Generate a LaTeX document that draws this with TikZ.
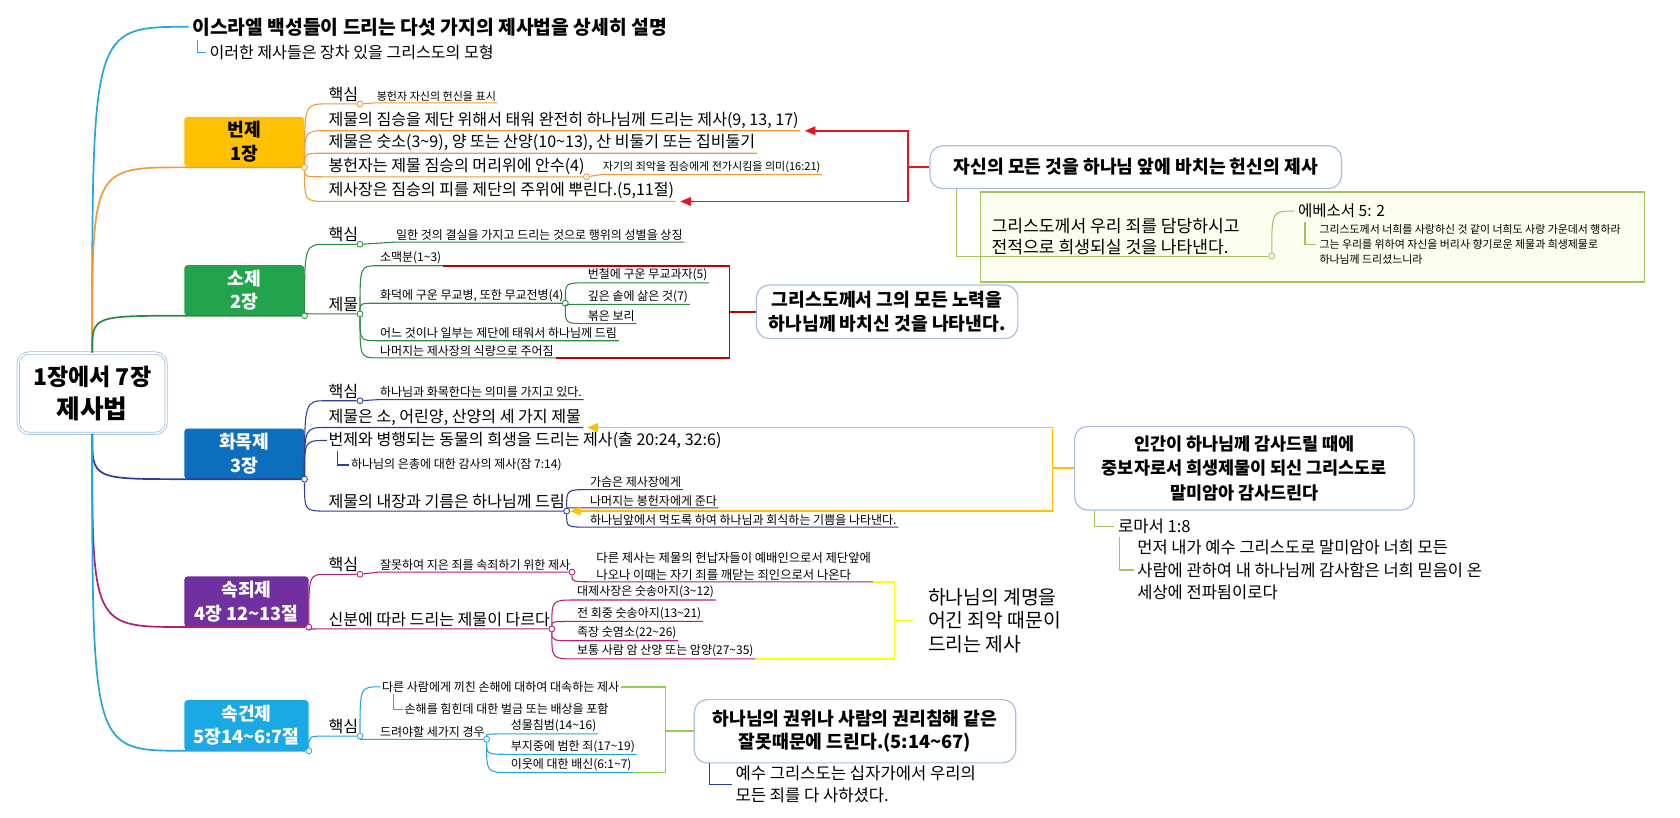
\documentclass[tikz,border=0pt]{standalone}
\usepackage{fontspec}
\setmainfont{Noto Sans CJK KR}
\usetikzlibrary{arrows.meta,positioning}
\newcommand{\tld}{\textasciitilde}

\definecolor{rootline}{HTML}{9DBCE0}
\definecolor{boxline}{HTML}{A9BFDD}
\definecolor{bunjebox}{HTML}{FFC000}
\definecolor{bunjeline}{HTML}{F39A3A}
\definecolor{sojebox}{HTML}{22A34E}
\definecolor{sojeline}{HTML}{2D8A3E}
\definecolor{hwamokbox}{HTML}{0E6EBE}
\definecolor{hwamokline}{HTML}{2C3E9C}
\definecolor{sokjoebox}{HTML}{7030A0}
\definecolor{sokjoeline}{HTML}{B11F7C}
\definecolor{sokgeonbox}{HTML}{1BA9E6}
\definecolor{sokgeonline}{HTML}{27A6DC}
\definecolor{arrowred}{HTML}{E8141B}
\definecolor{darkred}{HTML}{C00000}
\definecolor{amber}{HTML}{FFC000}
\definecolor{brightyellow}{HTML}{FFFF00}
\definecolor{leafgreen}{HTML}{92D050}
\definecolor{notegreen}{HTML}{A5C261}
\definecolor{notefill}{HTML}{FBFDEE}

\tikzset
{
    rootnode/.style = {rectangle, rounded corners=10pt, draw=rootline, double=white,
                       double distance=1.5pt, line width=0.7pt, fill=white, align=center,
                       minimum width=138, minimum height=75,
                       font=\fontsize{24}{31}\selectfont\bfseries},
    chapter/.style = {rectangle, rounded corners=3pt, fill=#1, text=white, align=center,
                      minimum width=112, minimum height=47, inner sep=1pt,
                      font=\fontsize{17}{22}\selectfont\bfseries},
    topic/.style = {anchor=south west, inner xsep=1.5pt, inner ysep=2pt,
                    font=\fontsize{15}{18}\selectfont},
    detail/.style = {anchor=south west, inner xsep=1.5pt, inner ysep=1.5pt, align=left,
                     font=\fontsize{11.2}{15}\selectfont},
    smalldetail/.style = {detail, font=\fontsize{10.3}{14}\selectfont},
    knob/.style = {circle, draw=#1, fill=white, line width=0.8pt, inner sep=0pt,
                   minimum size=5.5pt},
    branch/.style = {draw=#1, line width=1pt},
    trunk/.style = {draw=#1, line width=1.6pt},
    curvy/.style = {to path={.. controls (\tikztostart |- \tikztotarget) .. (\tikztotarget)}},
    summary/.style = {rectangle, rounded corners=12pt, draw=boxline, line width=1.1pt,
                      fill=white, align=center, font=\fontsize{17}{22}\selectfont\bfseries},
    relation/.style = {draw=#1, line width=1.5pt, -{Triangle[length=10pt,width=8pt]}}
}

\begin{document}
\begin{tikzpicture}[x=1pt, y=-1pt]
    \fill[white] (0,0) rectangle (1568,763);
    \useasboundingbox (0,0) rectangle (1568,763);

    \node[rootnode] (root) at (86,367) {{\fontsize{21.5}{24}\selectfont 1장에서 7장}\\제사법};

    % 제목
    \node[anchor=west, font=\fontsize{18}{21}\selectfont\bfseries] (title) at (176,25)
        {이스라엘 백성들이 드리는 다섯 가지의 제사법을 상세히 설명};
    \node[anchor=west, font=\fontsize{15}{18}\selectfont] (titlenote) at (192,49)
        {이러한 제사들은 장차 있을 그리스도의 모형};
    \draw[trunk=sokgeonline] (root.north) to[curvy] (title.west);
    \draw[branch=sokgeonline] ([xshift=8pt]title.south west) |- (titlenote.west);

    % 번제
    \node[chapter=bunjebox, text=black] (b1) at (228,132.5) {번제\\1장};
    \node[knob=bunjeline] (k1) at (b1.south east) {};
    \draw[trunk=bunjeline] (root.north) to[curvy] (b1.south west) -- (k1);

    \node[topic] (t11) at (305,97) {핵심};
    \node[knob=bunjeline] (k11) at (t11.south east) {};
    \node[smalldetail] (t111) at (350,96) {봉헌자 자신의 헌신을 표시};
    \node[topic] (t12) at (305,122) {제물의 짐승을 제단 위해서 태워 완전히 하나님께 드리는 제사(9, 13, 17)};
    \node[topic] (t13) at (305,143) {제물은 숫소(3\tld9), 양 또는 산양(10\tld13), 산 비둘기 또는 집비둘기};
    \node[topic] (t14) at (305,165) {봉헌자는 제물 짐승의 머리위에 안수(4)};
    \node[knob=bunjeline] (k14) at (t14.south east) {};
    \node[smalldetail] (t141) at (561,163) {자기의 죄악을 짐승에게 전가시킴을 의미(16:21)};
    \node[topic] (t15) at (305,188) {제사장은 짐승의 피를 제단의 주위에 뿌린다.(5,11절)};

    \draw[branch=bunjeline] (k1) to[curvy] (t11.south west) -- (k11);
    \draw[branch=bunjeline] (k11) -- (t111.south west) -- (t111.south east);
    \foreach \leaf in {t12,t13,t15}
        \draw[branch=bunjeline] (k1) to[curvy] (\leaf.south west) -- (\leaf.south east);
    \draw[branch=bunjeline] (k1) to[curvy] (t14.south west) -- (k14);
    \draw[branch=bunjeline] (k14) -- (t141.south west) -- (t141.south east);

    \node[summary, minimum width=384, minimum height=40] (c1) at (1060,156)
        {자신의 모든 것을 하나님 앞에 바치는 헌신의 제사};
    \draw[relation=arrowred] (c1.west) -- ++(-20,0) |- ([xshift=4pt]t12.south east);
    \draw[relation=arrowred] (c1.west) -- ++(-20,0) |- ([xshift=4pt]t15.south east);

    \node[draw=notegreen, line width=1.4pt, fill=notefill, minimum width=620, minimum height=84]
        (n1) at (1225,221) {};
    \node[anchor=west, align=left, font=\fontsize{16}{20}\selectfont] (n1text) at (922,221)
        {그리스도께서 우리 죄를 담당하시고\\전적으로 희생되실 것을 나타낸다.};
    \node[knob=notegreen] (kn1) at (1187,239) {};
    \draw[branch=notegreen] ([xshift=25pt]c1.south west) |- (kn1);
    \node[anchor=west, font=\fontsize{14.5}{17}\selectfont] (eph) at (1208,197) {에베소서 5: 2};
    \draw[branch=notegreen] (kn1) to[curvy] (eph.west);
    \node[anchor=west, align=left, font=\fontsize{10.2}{14}\selectfont] (ephv) at (1228,228)
        {그리스도께서 너희를 사랑하신 것 같이 너희도 사랑 가운데서 행하라\\그는 우리를 위하여 자신을 버리사 향기로운 제물과 희생제물로\\하나님께 드리셨느니라};
    \draw[branch=notegreen] ([xshift=10pt]eph.south west) |- (ephv.west);

    % 소제
    \node[chapter=sojebox] (b2) at (228,271) {소제\\2장};
    \node[knob=sojeline] (k2) at (b2.south east) {};
    \draw[trunk=sojeline] (root.north) to[curvy] (b2.south west) -- (k2);

    \node[topic] (t21) at (305,228) {핵심};
    \node[knob=sojeline] (k21) at (t21.south east) {};
    \node[detail] (t211) at (368,226) {일한 것의 결실을 가지고 드리는 것으로 행위의 성별을 상징};
    \node[topic] (t22) at (305,293) {제물};
    \node[knob=sojeline] (k22) at (t22.south east) {};
    \node[detail] (t221) at (353,248) {소맥분(1\tld3)};
    \node[detail] (t222) at (353,283) {화덕에 구운 무교병, 또한 무교전병(4)};
    \node[knob=sojeline] (k222) at (t222.south east) {};
    \node[detail] (t2221) at (547,264) {번철에 구운 무교과자(5)};
    \node[detail] (t2222) at (547,284) {깊은 솥에 삶은 것(7)};
    \node[detail] (t2223) at (547,302) {볶은 보리};
    \node[detail] (t223) at (353,318) {어느 것이나 일부는 제단에 태워서 하나님께 드림};
    \node[detail] (t224) at (353,334) {나머지는 제사장의 식량으로 주어짐};

    \draw[branch=sojeline] (k2) to[curvy] (t21.south west) -- (k21);
    \draw[branch=sojeline] (k21) -- (t211.south west) -- (t211.south east);
    \draw[branch=sojeline] (k2) to[curvy] (t22.south west) -- (k22);
    \foreach \leaf in {t221,t223,t224}
        \draw[branch=sojeline] (k22) to[curvy] (\leaf.south west) -- (\leaf.south east);
    \draw[branch=sojeline] (k22) to[curvy] (t222.south west) -- (k222);
    \foreach \leaf in {t2221,t2222,t2223}
        \draw[branch=sojeline] (k222) to[curvy] (\leaf.south west) -- (\leaf.south east);

    \coordinate (s2) at (681,291);
    \draw[draw=darkred, line width=1.5pt] (t221.south east) -| (s2) |- (t224.south east);
    \node[summary, minimum width=244, minimum height=50] (c2) at (828,291)
        {그리스도께서 그의 모든 노력을\\하나님께 바치신 것을 나타낸다.};
    \draw[draw=darkred, line width=1.5pt] (s2) -- (c2.west);

    % 화목제
    \node[chapter=hwamokbox] (b3) at (228,423.5) {화목제\\3장};
    \node[knob=hwamokline] (k3) at (b3.south east) {};
    \draw[trunk=hwamokline] (root.south) to[curvy] (b3.south west) -- (k3);

    \node[topic] (t31) at (305,374) {핵심};
    \node[knob=hwamokline] (k31) at (t31.south east) {};
    \node[detail] (t311) at (353,373) {하나님과 화목한다는 의미를 가지고 있다.};
    \node[topic] (t32) at (305,399) {제물은 소, 어린양, 산양의 세 가지 제물};
    \node[topic] (t33) at (305,421) {번제와 병행되는 동물의 희생을 드리는 제사(출 20:24, 32:6)};
    \node[detail, anchor=west] (t331) at (326,434) {하나님의 은총에 대한 감사의 제사(잠 7:14)};
    \node[topic] (t34) at (305,477) {제물의 내장과 기름은 하나님께 드림};
    \node[knob=hwamokline] (k34) at (t34.south east) {};
    \node[detail] (t341) at (549,457) {가슴은 제사장에게};
    \node[detail] (t342) at (549,474) {나머지는 봉헌자에게 준다};
    \node[detail] (t343) at (549,492) {하나님앞에서 먹도록 하여 하나님과 회식하는 기쁨을 나타낸다.};

    \draw[branch=hwamokline] (k3) to[curvy] (t31.south west) -- (k31);
    \draw[branch=hwamokline] (k31) -- (t311.south west) -- (t311.south east);
    \draw[branch=hwamokline] (k3) to[curvy] (t32.south west) -- (t32.south east);
    \draw[branch=hwamokline] (k3) to[curvy] (t33.west);
    \draw[branch=hwamokline] ([xshift=10pt]t33.south west) |- (t331.west);
    \draw[branch=hwamokline] (k3) to[curvy] (t34.south west) -- (k34);
    \foreach \leaf in {t341,t342,t343}
        \draw[branch=hwamokline] (k34) to[curvy] (\leaf.south west) -- (\leaf.south east);

    \node[summary, minimum width=317, minimum height=78, font=\fontsize{16.3}{23}\selectfont\bfseries]
        (c3) at (1161.5,437)
        {인간이 하나님께 감사드릴 때에\\중보자로서 희생제물이 되신 그리스도로\\말미암아 감사드린다};
    \draw[relation=amber] (c3.west) -- ++(-20,0) |- ([xshift=4pt]t32.south east);
    \draw[relation=amber] (c3.west) -- ++(-20,0) |- (k34.east);

    \node[anchor=west, font=\fontsize{15.5}{18}\selectfont] (rom) at (1040,491) {로마서 1:8};
    \draw[branch=notegreen] ([xshift=19pt]c3.south west) |- (rom.west);
    \node[anchor=west, align=left, font=\fontsize{15.4}{21}\selectfont] (romv) at (1058,532)
        {먼저 내가 예수 그리스도로 말미암아 너희 모든\\사람에 관하여 내 하나님께 감사함은 너희 믿음이 온\\세상에 전파됨이로다};
    \draw[branch=notegreen] ([xshift=5pt]rom.south west) |- (romv.west);

    % 속죄제
    \node[chapter=sokjoebox, minimum width=116] (b4) at (230,561.5) {속죄제\\4장 12\tld13절};
    \node[knob=sokjoeline] (k4) at (b4.south east) {};
    \draw[trunk=sokjoeline] (root.south) to[curvy] (b4.south west) -- (k4);

    \node[topic] (t41) at (305,536) {핵심};
    \node[knob=sokjoeline] (k41) at (t41.south east) {};
    \node[detail] (t411) at (353,534) {잘못하여 지은 죄를 속죄하기 위한 제사};
    \node[knob=sokjoeline] (k411) at (t411.south east) {};
    \node[detail, font=\fontsize{11.5}{15}\selectfont] (t4111) at (555,543)
        {다른 제사는 제물의 헌납자들이 예배인으로서 제단앞에\\나오나 이때는 자기 죄를 깨닫는 죄인으로서 나온다};
    \node[topic] (t42) at (305,587) {신분에 따라 드리는 제물이 다르다};
    \node[knob=sokjoeline] (k42) at (t42.south east) {};
    \node[detail] (t421) at (537,560) {대제사장은 숫송아지(3\tld12)};
    \node[detail] (t422) at (537,580) {전 회중 숫송아지(13\tld21)};
    \node[detail] (t423) at (537,598) {족장 숫염소(22\tld26)};
    \node[detail] (t424) at (537,615) {보통 사람 암 산양 또는 암양(27\tld35)};

    \draw[branch=sokjoeline] (k4) to[curvy] (t41.south west) -- (k41);
    \draw[branch=sokjoeline] (k41) -- (t411.south west) -- (k411);
    \draw[branch=sokjoeline] (k411) to[curvy] (t4111.south west) -- (t4111.south east);
    \draw[branch=sokjoeline] (k4) to[curvy] (t42.south west) -- (k42);
    \foreach \leaf in {t421,t422,t423,t424}
        \draw[branch=sokjoeline] (k42) to[curvy] (\leaf.south west) -- (\leaf.south east);

    \coordinate (s4) at (835,579);
    \draw[draw=brightyellow, line width=1.5pt] (t4111.south east) -| (s4) |- (t424.south east);
    \node[anchor=west, inner xsep=13pt, align=left, font=\fontsize{18}{22}\selectfont] (c4) at (853,579)
        {하나님의 계명을\\어긴 죄악 때문이\\드리는 제사};
    \draw[draw=brightyellow, line width=1.5pt] (s4) -- (c4.west);

    % 속건제
    \node[chapter=sokgeonbox, minimum width=116] (b5) at (230,677) {속건제\\5장14\tld6:7절};
    \node[knob=sokgeonline] (k5) at (b5.south east) {};
    \draw[trunk=sokgeonline] (root.south) to[curvy] (b5.south west) -- (k5);

    \node[topic] (t51) at (305,687) {핵심};
    \node[knob=sokgeonline] (k51) at (t51.south east) {};
    \node[detail, anchor=west] (t511) at (355,641) {다른 사람에게 끼친 손해에 대하여 대속하는 제사};
    \node[detail, anchor=west] (t5111) at (376,662) {손해를 힘힌데 대한 벌금 또는 배상을 포함};
    \node[detail] (t512) at (353,690) {드려야할 세가지 경우};
    \node[knob=sokgeonline] (k512) at (t512.south east) {};
    \node[detail] (t5121) at (475,685) {성물침범(14\tld16)};
    \node[detail] (t5122) at (475,704) {부지중에 범한 죄(17\tld19)};
    \node[detail] (t5123) at (475,721) {이웃에 대한 배신(6:1\tld7)};

    \draw[branch=sokgeonline] (k5) to[curvy] (t51.south west) -- (k51);
    \draw[branch=sokgeonline] (k51) to[curvy] (t511.west);
    \draw[branch=sokgeonline] ([xshift=12pt]t511.south west) |- (t5111.west);
    \draw[branch=sokgeonline] (k51) to[curvy] (t512.south west) -- (k512);
    \foreach \leaf in {t5121,t5122,t5123}
        \draw[branch=sokgeonline] (k512) to[curvy] (\leaf.south west) -- (\leaf.south east);

    \coordinate (s5) at (621,682.5);
    \draw[draw=leafgreen, line width=1.5pt] (t511.east) -| (s5) |- (t5123.south east);
    \node[summary, minimum width=300, minimum height=59] (c5) at (798,682.5)
        {하나님의 권위나 사람의 권리침해 같은\\잘못때문에 드린다.(5:14\tld67)};
    \draw[draw=leafgreen, line width=1.5pt] (s5) -- (c5.west);

    \node[anchor=west, align=left, font=\fontsize{15.5}{20}\selectfont] (c5n) at (683,732)
        {예수 그리스도는 십자가에서 우리의\\모든 죄를 다 사하셨다.};
    \draw[branch=hwamokline] ([xshift=15pt]c5.south west) |- (c5n.west);
\end{tikzpicture}
\end{document}
